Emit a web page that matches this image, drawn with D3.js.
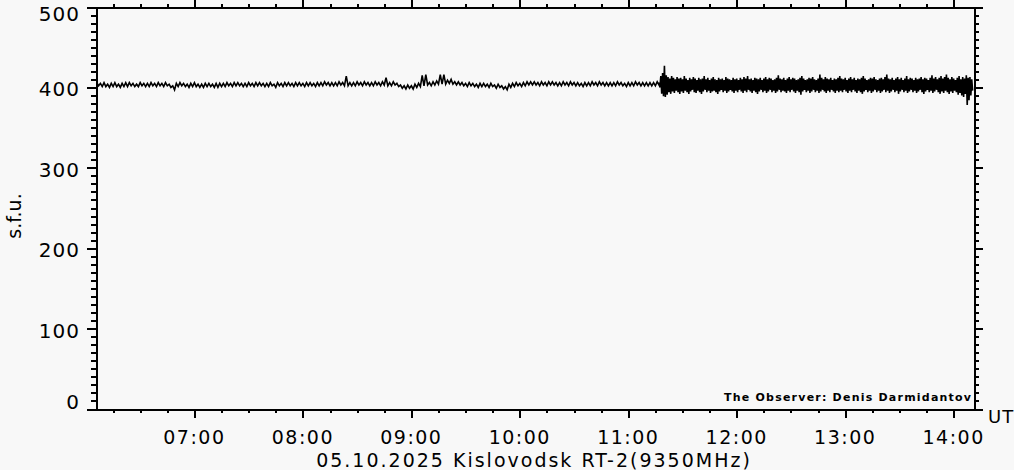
<!DOCTYPE html>
<html><head><meta charset="utf-8">
<script src="https://cdn.jsdelivr.net/npm/d3@7"></script>
<style>
html,body{margin:0;padding:0;background:#f8f8f8;}
svg{display:block;}
text{font-family:"DejaVu Sans",sans-serif;fill:#000;}
</style></head><body>
<script>
// ---- data (minutes since 00:00 UT, flux in s.f.u.) ----
const timeDomain = [365, 850.7];
const fluxDomain = [0, 500];
const yTickValues = [0, 100, 200, 300, 400, 500];
const xTickValues = [420, 480, 540, 600, 660, 720, 780, 840];
const xTickLabels = ["07:00", "08:00", "09:00", "10:00", "11:00", "12:00", "13:00", "14:00"];
const titleText = "05.10.2025 Kislovodsk RT-2(9350MHz)";
const observerText = "The Observer: Denis Darmidantov";
const yLabel = "s.f.u.";
const unitLabel = "UT";

// quiet part: per-2-minute max / min starting 06:06
const quietStart = 366, quietStep = 2;
const quietHigh = [
406,405,406,404,405,406,404,405,406,406,405,404,406,405,405,406,405,406,405,406,
404,402,405,406,405,404,405,406,404,404,405,405,404,405,405,405,406,405,406,406,
405,405,406,405,406,406,405,405,406,404,406,405,406,406,405,406,406,405,406,406,
405,406,406,407,406,406,406,407,406,414,406,406,407,406,407,406,406,407,406,407,
412,406,407,405,403,402,403,402,404,405,415,416,406,407,408,416,416,409,410,407,
407,406,405,406,405,404,405,405,404,405,403,404,402,401,404,405,406,405,406,407,
407,407,406,407,406,407,407,406,406,407,406,407,406,406,405,406,406,407,406,407,
406,406,406,406,407,406,405,406,406,407,406,406,406,406,406,407];
const quietLow = [
402,401,401,400,401,401,400,401,401,402,401,401,402,401,401,402,401,402,401,402,
400,397,401,402,401,400,401,401,400,400,401,401,400,400,401,401,402,401,402,402,
401,401,402,401,402,402,401,401,402,400,402,401,402,402,401,402,402,401,402,402,
401,402,402,403,402,402,402,403,402,402,402,402,403,402,403,402,402,403,402,403,
402,402,403,401,399,398,399,398,400,401,402,403,402,403,404,404,404,405,404,403,
403,402,401,402,401,400,401,401,400,401,399,400,398,397,400,401,402,401,402,403,
403,403,402,403,402,403,403,402,402,403,402,403,402,402,401,402,402,403,402,403,
402,402,402,402,403,402,401,402,402,403,402,402,402,402,402,403];

// noisy part: per-minute max / min starting 11:17
const noisyStart = 677, noisyStep = 1;
const noisyHigh = [
406,414,418,427,415,413,411,414,412,410,
413,411,412,410,414,411,409,412,410,413,
411,409,412,410,411,414,410,412,409,411,
413,410,409,412,410,411,409,413,411,410,
409,412,410,411,409,412,410,413,411,414,
410,411,409,412,411,410,412,409,411,413,
410,412,411,409,410,412,415,411,410,412,
409,411,413,410,412,411,409,410,412,414,
411,409,410,412,411,413,410,409,411,416,
412,410,413,411,410,412,409,411,410,412,
414,411,410,412,409,411,413,410,412,409,
411,410,412,414,411,409,410,412,411,413,
410,409,411,412,410,413,416,411,410,412,
409,411,413,410,412,409,411,414,410,412,
411,409,412,410,411,413,410,412,411,409,
412,415,411,413,410,412,414,411,413,416,
412,410,413,411,409,412,414,410,413,411,
415,412,413,410];
const noisyLow = [
400,392,389,388,391,394,392,395,393,396,
394,392,395,393,396,394,392,395,397,394,
393,396,394,392,395,397,394,396,393,395,
396,394,392,395,397,394,396,393,395,397,
395,393,396,394,397,395,393,396,394,397,
395,393,396,394,392,395,397,394,396,393,
395,397,394,396,393,395,397,394,396,395,
393,396,394,397,395,393,396,394,391,395,
397,394,396,393,395,397,394,396,393,395,
397,395,393,396,394,397,395,393,396,394,
396,394,397,395,393,396,394,397,395,393,
396,394,392,395,397,394,396,393,395,397,
394,396,393,395,397,394,396,393,395,397,
394,396,392,395,397,394,396,393,395,397,
394,396,393,395,397,394,392,395,397,394,
396,393,395,397,394,392,395,393,396,394,
392,395,393,396,394,391,393,390,388,392,
378,384,390,396];

// ---- drawing ----
const W = 1014, H = 470;
const svg = d3.select("body").append("svg").attr("width", W).attr("height", H);
svg.append("rect").attr("width", W).attr("height", H).attr("fill", "#f8f8f8");

const x = d3.scaleLinear().domain(timeDomain).range([95, 973]);
const y = d3.scaleLinear().domain(fluxDomain).range([409, 7]);

// series points: max then min inside each bin
const pts = [];
quietHigh.forEach((h, i) => {
  const t = quietStart + i * quietStep;
  pts.push([t, h]);
  pts.push([t + quietStep / 2, quietLow[i]]);
});
noisyHigh.forEach((h, i) => {
  const t = noisyStart + i * noisyStep;
  pts.push([t, h]);
  pts.push([t + noisyStep / 2, noisyLow[i]]);
});

const line = d3.line().x(d => x(d[0])).y(d => y(d[1]));
svg.append("path").datum(pts).attr("d", line)
  .attr("fill", "none").attr("stroke", "#000").attr("stroke-width", 1.6)
  .attr("stroke-linejoin", "miter");

// axes
const minorY = d3.range(0, 501, 10).filter(v => v % 100 !== 0);
const minorX = d3.range(375, 851, 15).filter(v => v % 60 !== 0);

function styleAxis(g) {
  g.selectAll("path,line").attr("stroke", "#000").attr("stroke-width", 2)
    .attr("shape-rendering", "crispEdges");
  g.selectAll("text").remove();
}
// left
svg.append("g").attr("transform", "translate(96,0)")
  .call(d3.axisLeft(y).tickValues(yTickValues).tickSize(9).tickSizeOuter(0)).call(styleAxis);
svg.append("g").attr("transform", "translate(96,0)")
  .call(d3.axisLeft(y).tickValues(minorY).tickSize(5).tickSizeOuter(0)).call(styleAxis);
// right
svg.append("g").attr("transform", "translate(974,0)")
  .call(d3.axisRight(y).tickValues(yTickValues).tickSize(9).tickSizeOuter(0)).call(styleAxis);
svg.append("g").attr("transform", "translate(974,0)")
  .call(d3.axisRight(y).tickValues(minorY).tickSize(5).tickSizeOuter(0)).call(styleAxis);
// top
svg.append("g").attr("transform", "translate(0,7)")
  .call(d3.axisTop(x).tickValues(xTickValues).tickSize(7).tickSizeOuter(0)).call(styleAxis);
svg.append("g").attr("transform", "translate(0,7)")
  .call(d3.axisTop(x).tickValues(minorX).tickSize(3).tickSizeOuter(0)).call(styleAxis);
// bottom
svg.append("g").attr("transform", "translate(0,409)")
  .call(d3.axisBottom(x).tickValues(xTickValues).tickSize(9).tickSizeOuter(0)).call(styleAxis);
svg.append("g").attr("transform", "translate(0,409)")
  .call(d3.axisBottom(x).tickValues(minorX).tickSize(4).tickSizeOuter(0)).call(styleAxis);

// y tick labels
svg.append("g").selectAll("text").data(yTickValues).join("text")
  .attr("x", 80).attr("text-anchor", "end")
  .attr("y", d => Math.max(21, Math.min(409, y(d) + 9)))
  .attr("font-size", 20).attr("letter-spacing", 1)
  .text(d => d);

// x tick labels
svg.append("g").selectAll("text").data(xTickValues).join("text")
  .attr("x", d => x(d)).attr("y", 444).attr("text-anchor", "middle")
  .attr("font-size", 19).attr("letter-spacing", 1.5)
  .text((d, i) => xTickLabels[i]);

// title
svg.append("text").attr("x", 534).attr("y", 466.5).attr("text-anchor", "middle")
  .attr("font-size", 19).attr("letter-spacing", 2).text(titleText);

// UT
svg.append("text").attr("x", 988).attr("y", 423).attr("font-size", 18)
  .attr("letter-spacing", 1).text(unitLabel);

// y label
svg.append("text").attr("transform", "translate(21,216) rotate(-90)")
  .attr("text-anchor", "middle").attr("font-size", 19).text(yLabel);

// observer
svg.append("text").attr("x", 724).attr("y", 401).attr("font-size", 11)
  .attr("font-weight", "bold").attr("textLength", 247).attr("lengthAdjust", "spacing")
  .text(observerText);
</script>
</body></html>
